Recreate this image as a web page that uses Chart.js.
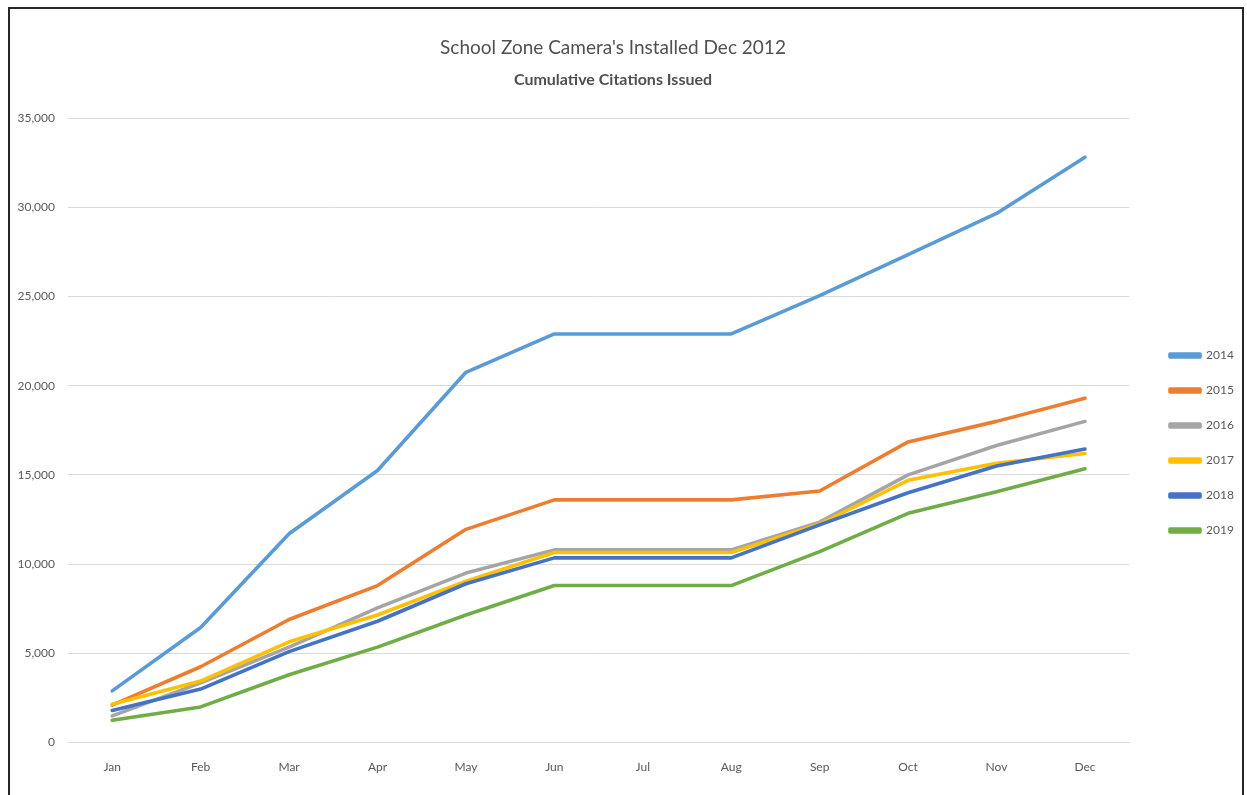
<!DOCTYPE html>
<html>
<head>
<meta charset="utf-8">
<script src="https://cdn.jsdelivr.net/npm/chart.js@4.4.1/dist/chart.umd.min.js"></script>
<style>
  html, body { margin: 0; padding: 0; background: #ffffff; overflow: hidden; }
  #wrap { position: absolute; left: 0; top: 0; width: 1247px; height: 795px; }
  #frame { position: absolute; left: 8px; top: 7px; width: 1236px; height: 820px; border: 2px solid #262626; pointer-events: none; box-sizing: border-box; }
</style>
</head>
<body>
<div id="wrap"><canvas id="c" width="1247" height="795"></canvas></div>
<div id="frame"></div>
<script>
const months = ['Jan','Feb','Mar','Apr','May','Jun','Jul','Aug','Sep','Oct','Nov','Dec'];
const seriesNames = ['2014','2015','2016','2017','2018','2019'];
const colors = ['#5B9BD5','#ED7D31','#A5A5A5','#FFC000','#4472C4','#70AD47'];
const y2014 = [2900, 6450, 11700, 15250, 20750, 22900, 22900, 22900, 25050, 27350, 29650, 32800];
const y2015 = [2100, 4250, 6900, 8800, 11950, 13600, 13600, 13600, 14100, 16850, 18000, 19300];
const y2016 = [1500, 3350, 5350, 7550, 9500, 10800, 10800, 10800, 12350, 15000, 16650, 18000];
const y2017 = [2150, 3450, 5650, 7150, 9050, 10650, 10650, 10650, 12250, 14700, 15650, 16200];
const y2018 = [1800, 3000, 5100, 6800, 8900, 10350, 10350, 10350, 12200, 14000, 15500, 16450];
const y2019 = [1250, 2000, 3800, 5350, 7150, 8800, 8800, 8800, 10700, 12850, 14050, 15350];
const yTicks = [0, 5000, 10000, 15000, 20000, 25000, 30000, 35000];
const allSeries = [y2014, y2015, y2016, y2017, y2018, y2019];

const FONT = 'Lato, "Open Sans", sans-serif';
const TXT = '#595959';

const legendShift = {
  id: 'legendShift',
  afterLayout(chart) {
    const l = chart.legend;
    if (!l) return;
    const dx = 1170 - (l.left + l.options.labels.padding);
    l.left += dx; l.right += dx;
  }
};

new Chart(document.getElementById('c'), {
  type: 'line',
  data: {
    labels: months,
    datasets: allSeries.map((d, i) => ({
      label: seriesNames[i],
      data: d,
      borderColor: colors[i],
      backgroundColor: colors[i],
      borderWidth: 3.6,
      pointRadius: 0,
      tension: 0,
      fill: false,
      order: allSeries.length - i,
      borderCapStyle: 'round',
      borderJoinStyle: 'round'
    }))
  },
  options: {
    responsive: false,
    animation: false,
    layout: { padding: { left: 0, right: 21, top: 0, bottom: 4 } },
    plugins: {
      title: {
        display: true,
        text: "School Zone Camera's Installed Dec 2012",
        color: '#505050',
        font: { family: FONT, size: 19, weight: 'normal', lineHeight: 1.2 },
        padding: { top: 36, bottom: 9 }
      },
      subtitle: {
        display: true,
        text: 'Cumulative Citations Issued',
        color: '#505050',
        font: { family: FONT, size: 16, weight: 'bold', lineHeight: 1.2 },
        padding: { top: 2, bottom: 29 }
      },
      legend: {
        position: 'right',
        align: 'center',
        title: { display: true, text: '', padding: { top: 94, bottom: 0 }, font: { size: 1, lineHeight: 1 } },
        labels: {
          color: TXT,
          font: { family: FONT, size: 12 },
          boxWidth: 30,
          boxHeight: 3,
          padding: 23,
          sort: (a, b) => a.datasetIndex - b.datasetIndex
        }
      },
      tooltip: { enabled: false }
    },
    scales: {
      x: {
        offset: true,
        grid: { display: false, drawTicks: false },
        border: { display: true, color: '#D9D9D9', width: 1 },
        ticks: { color: TXT, font: { family: FONT, size: 12 }, padding: 17, maxRotation: 0 }
      },
      y: {
        min: 0,
        max: 35000,
        afterFit(scale) { scale.width = 68; },
        afterBuildTicks(scale) { scale.ticks = yTicks.map(v => ({ value: v })); },
        grid: { color: '#D9D9D9', lineWidth: 1, drawTicks: false },
        border: { display: false },
        ticks: {
          color: TXT,
          font: { family: FONT, size: 12 },
          padding: 13,
          callback: v => v.toLocaleString('en-US')
        }
      }
    }
  },
  plugins: [legendShift]
});
</script>
</body>
</html>
